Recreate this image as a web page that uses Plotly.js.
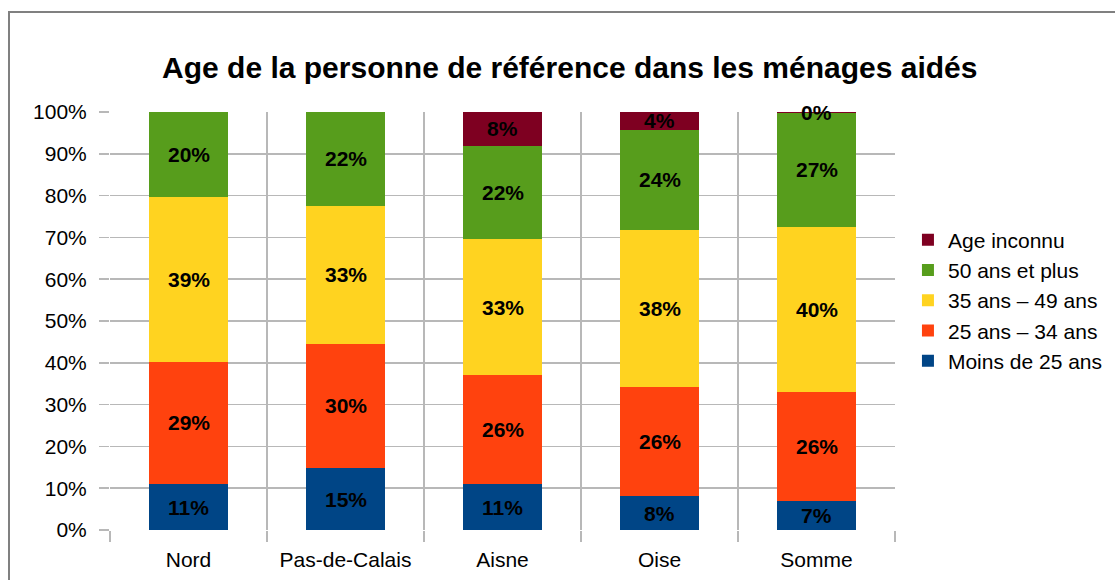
<!DOCTYPE html>
<html>
<head>
<meta charset="utf-8">
<script src="https://cdn.plot.ly/plotly-3.0.1.min.js"></script>
<style>
html,body{margin:0;padding:0;overflow:hidden;background:#fff;}
#chart{width:1115px;height:580px;}
#frame{position:absolute;left:8px;top:11px;width:1200px;height:700px;border:2px solid #808080;pointer-events:none;box-sizing:border-box;}
</style>
</head>
<body>
<div id="chart"></div>
<div id="frame"></div>
<script>
var categories = ["Nord", "Pas-de-Calais", "Aisne", "Oise", "Somme"];
var seriesNames = ["Moins de 25 ans", "25 ans \u2013 34 ans", "35 ans \u2013 49 ans", "50 ans et plus", "Age inconnu"];
var moins25 = [11.0, 14.8, 11.0, 8.1, 6.9];
var ans25_34 = [29.3, 29.8, 26.0, 26.0, 26.0];
var ans35_49 = [39.4, 33.0, 32.7, 37.7, 39.7];
var ans50plus = [20.3, 22.4, 22.2, 23.9, 27.2];
var ageInconnu = [null, null, 8.1, 4.3, 0.2];
var colors = ["#004586", "#ff420e", "#ffd320", "#579d1c", "#7e0021"];
var yTickVals = [0, 10, 20, 30, 40, 50, 60, 70, 80, 90, 100];

var seriesValues = [moins25, ans25_34, ans35_49, ans50plus, ageInconnu];
var FONT = "Liberation Sans, Arial, sans-serif";

var traces = seriesValues.map(function (vals, i) {
  return {
    type: "bar",
    name: seriesNames[i],
    x: categories,
    y: vals,
    marker: { color: colors[i], line: { width: 0 } },
    textposition: "none",
    hoverinfo: "name+y"
  };
});

// value labels centred in each stacked segment (data coordinates)
var annotations = [];
categories.forEach(function (cat, c) {
  var base = 0;
  seriesValues.forEach(function (vals) {
    var v = vals[c];
    if (v === null) return;
    annotations.push({
      x: cat, y: base + v / 2, xref: "x", yref: "y",
      text: "<b>" + Math.round(v) + "%</b>",
      showarrow: false,
      font: { family: FONT, size: 21, color: "#000000" },
      xanchor: "center", yanchor: "middle"
    });
    base += v;
  });
});

var layout = {
  width: 1115,
  height: 580,
  paper_bgcolor: "#ffffff",
  plot_bgcolor: "#ffffff",
  barmode: "stack",
  bargap: 0.5,
  margin: { l: 110, r: 220, t: 112, b: 50, autoexpand: false },
  font: { family: FONT, size: 21, color: "#000000" },
  title: {
    text: "<b>Age de la personne de référence dans les ménages aidés</b>",
    font: { family: FONT, size: 30, color: "#000000" },
    x: 0.511, xref: "container", xanchor: "center",
    y: 0.884, yref: "container", yanchor: "middle"
  },
  annotations: annotations,
  xaxis: {
    type: "category",
    tickson: "boundaries",
    showgrid: true,
    gridcolor: "#b8b8b8",
    gridwidth: 1.5,
    ticks: "outside",
    ticklen: 11,
    tickwidth: 1.5,
    tickcolor: "#b8b8b8",
    ticklabelstandoff: 15,
    showline: false,
    zeroline: false,
    automargin: false,
    tickfont: { family: FONT, size: 21, color: "#000000" },
    fixedrange: true
  },
  yaxis: {
    range: [0, 100],
    tickvals: yTickVals,
    ticktext: yTickVals.map(function (v) { return v + "%"; }),
    showgrid: true,
    gridcolor: "#b8b8b8",
    gridwidth: 1.5,
    ticks: "outside",
    ticklen: 10,
    tickwidth: 1.5,
    tickcolor: "#b8b8b8",
    ticklabelstandoff: 8,
    showline: false,
    zeroline: false,
    automargin: false,
    tickfont: { family: FONT, size: 21, color: "#000000" },
    fixedrange: true
  },
  legend: {
    traceorder: "reversed",
    x: 1.0165, xanchor: "left",
    y: 0.549, yanchor: "middle",
    font: { family: FONT, size: 21, color: "#000000" },
    bgcolor: "rgba(0,0,0,0)"
  },
  showlegend: true
};

Plotly.newPlot("chart", traces, layout, { displayModeBar: false, staticPlot: true });
</script>
</body>
</html>
